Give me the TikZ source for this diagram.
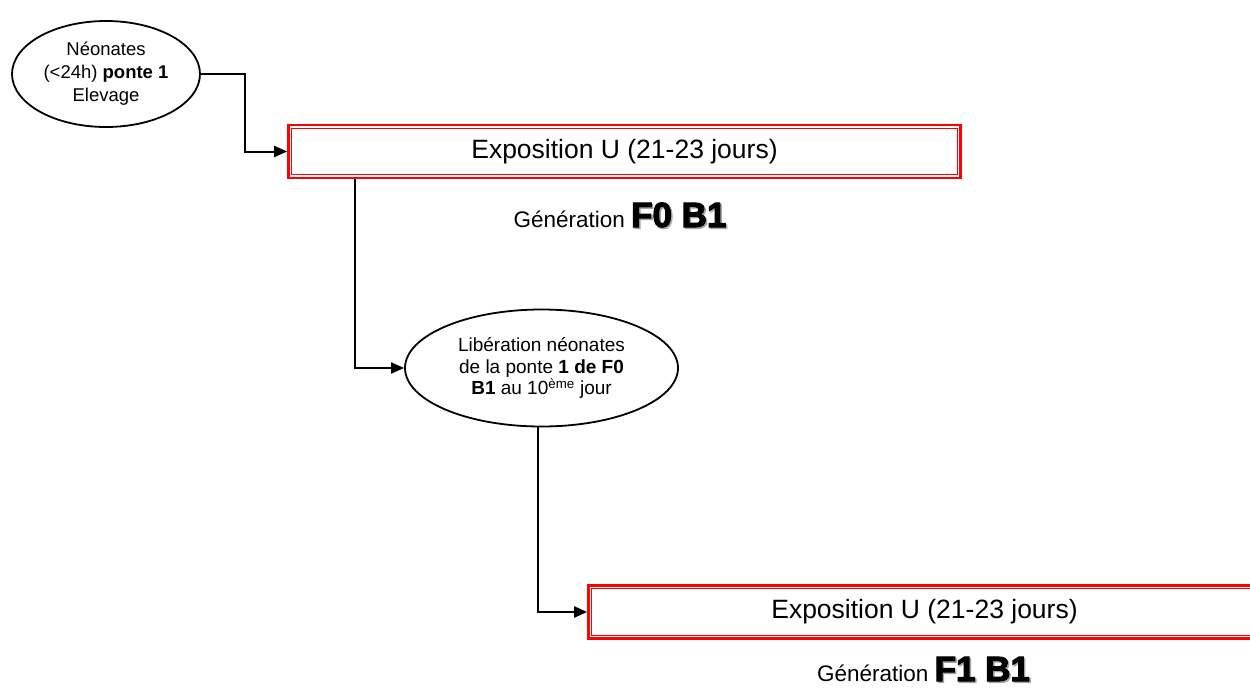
\documentclass[tikz,border=0pt]{standalone}
\usepackage{fontspec}
\setmainfont{Liberation Sans}
\newfontfamily\heavy[FakeBold=3]{Liberation Sans Bold}
\newcommand\genbig{\heavy\fontsize{35}{38}\selectfont}
\usetikzlibrary{shapes.geometric,arrows.meta}
\tikzset{
  ell/.style={ellipse,draw=black,line width=1.8pt,inner sep=0pt,align=center},
  expo/.style={rectangle,draw=red,line width=2.6pt,inner sep=0pt,minimum width=672pt,minimum height=53pt,font=\fontsize{26.5}{30}\selectfont},
  inner/.style={draw=red,line width=1.1pt},
  arr/.style={draw=black,line width=2pt,-{Triangle[length=13pt,width=11pt]}},
  gen/.style={anchor=base,inner sep=0pt,font=\fontsize{22.5}{26}\selectfont}
}
\begin{document}
\begin{tikzpicture}[x=1pt,y=-1pt]
\useasboundingbox (0,0) rectangle (1250,689);
\clip (0,0) rectangle (1250,689);
\fill[white] (0,0) rectangle (1250,689);

\node[ell,minimum width=188pt,minimum height=106pt,font=\fontsize{18.5}{23}\selectfont] (e1) at (106,74)
  {Néonates\\(<24h) \textbf{ponte 1}\\Elevage};

\node[expo] (b1) at (624.5,151.5) {Exposition U (21-23 jours)};
\draw[inner] ([shift={(4.5pt,4.5pt)}]b1.south west) rectangle ([shift={(-4.5pt,-4.5pt)}]b1.north east);

\node[gen,text=black!35] (g1s) at (621.5,228.5) {\phantom{Génération }{\genbig F0 B1}};
\node[gen] (g1) at (620,227) {Génération {\genbig F0 B1}};

\node[ell,minimum width=273pt,minimum height=117pt,font=\fontsize{19}{21.5}\selectfont] (e2) at (541.5,368)
  {Libération néonates\\de la ponte \textbf{1 de F0}\\\textbf{B1} au 10\textsuperscript{ème} jour};

\node[expo] (b2) at (924.5,612) {Exposition U (21-23 jours)};
\draw[inner] ([shift={(4.5pt,4.5pt)}]b2.south west) rectangle ([shift={(-4.5pt,-4.5pt)}]b2.north east);

\node[gen,text=black!35] (g2s) at (925,682.5) {\phantom{Génération }{\genbig F1 B1}};
\node[gen] (g2) at (923.5,681) {Génération {\genbig F1 B1}};

\draw[arr] (e1.east) -- ++(44,0) |- (b1.west);
\draw[arr] ([xshift=-269.5pt]b1.south) |- (e2.west);
\draw[arr] ([xshift=-3.5pt]e2.south) |- (b2.west);
\end{tikzpicture}
\end{document}
